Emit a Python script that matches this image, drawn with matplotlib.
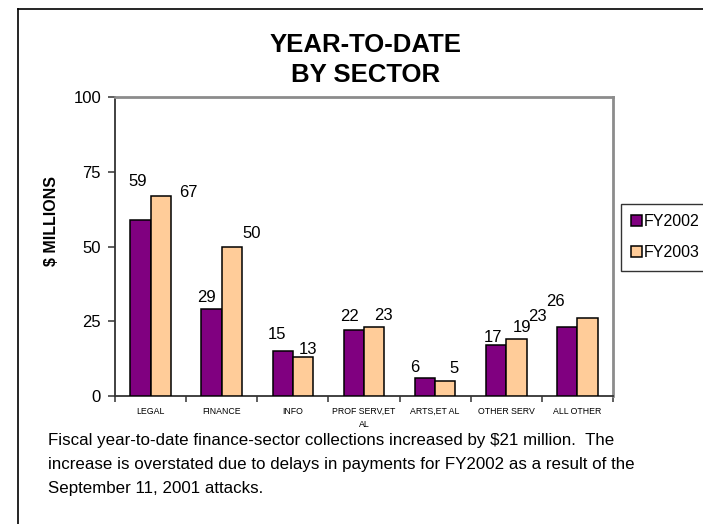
import matplotlib
matplotlib.use("Agg")
import matplotlib.pyplot as plt
from matplotlib.patches import Patch
from matplotlib.lines import Line2D
import numpy as np

plt.rcParams['font.family'] = ['Liberation Sans', 'DejaVu Sans']

categories = ["LEGAL", "FINANCE", "INFO", "PROF SERV,ET\nAL", "ARTS,ET AL", "OTHER SERV", "ALL OTHER"]
fy2002 = [59, 29, 15, 22, 6, 17, 23]
fy2003 = [67, 50, 13, 23, 5, 19, 26]
series_names = ["FY2002", "FY2003"]
yticks = [0, 25, 50, 75, 100]
title_lines = ["YEAR-TO-DATE", "BY SECTOR"]
ylabel = "$ MILLIONS"
caption_lines = [
    "Fiscal year-to-date finance-sector collections increased by $21 million.  The",
    "increase is overstated due to delays in payments for FY2002 as a result of the",
    "September 11, 2001 attacks.",
]

# label offsets (pixels) relative to bar top centre, as drawn in the reference
off2002 = [(-3, 38), (-5, 12), (-6, 17), (-4, 14), (-10, 11), (-3, 8), (-30, 11)]
off2003 = [(28, 3), (20, 13), (5, 8), (9, 12), (9, 13), (6, 12), (-32, 17)]

W, H = 703, 524
fig = plt.figure(figsize=(W / 100, H / 100), dpi=100)
ax = fig.add_axes([115 / W, 1 - 396 / H, (613 - 115) / W, (396 - 97) / H])

purple = "#800080"
peach = "#FFCC99"
x = np.arange(len(categories))
bw = 0.286
b1 = ax.bar(x - bw / 2, fy2002, bw, color=purple, edgecolor="black", linewidth=1.1, zorder=3)
b2 = ax.bar(x + bw / 2, fy2003, bw, color=peach, edgecolor="black", linewidth=1.1, zorder=3)

for bars, vals, offs in ((b1, fy2002, off2002), (b2, fy2003, off2003)):
    for r, v, (dx, dy) in zip(bars, vals, offs):
        ax.annotate(str(v), (r.get_x() + r.get_width() / 2, v), xytext=(dx, dy),
                    textcoords="offset pixels", ha="center", va="center", fontsize=12)

ax.set_xlim(-0.5, len(categories) - 0.5)
ax.set_ylim(0, 100)
ax.set_yticks(yticks)
ax.set_yticklabels([str(t) for t in yticks], fontsize=12)
ax.tick_params(axis="y", length=5, width=1.1, direction="out", pad=5, color="#333333")
ax.set_xticks(x)
ax.set_xticklabels(categories, fontsize=6.3, linespacing=1.6)
ax.tick_params(axis="x", which="major", length=0, pad=8)
ax.set_xticks(np.arange(len(categories) + 1) - 0.5, minor=True)
ax.tick_params(axis="x", which="minor", length=4, width=1.1, direction="out", color="#333333")

for s in ("left", "bottom"):
    ax.spines[s].set_color("#333333")
    ax.spines[s].set_linewidth(1.3)
for s in ("top", "right"):
    ax.spines[s].set_color("#8c8c8c")
    ax.spines[s].set_linewidth(2)

fig.text(51 / W, 1 - 221 / H, ylabel, rotation=90, ha="center", va="center",
         fontsize=11.5, fontweight="bold")

for i, line in enumerate(title_lines):
    fig.text(366 / W, 1 - (45 + 30 * i) / H, line, ha="center", va="center",
             fontsize=18.5, fontweight="bold")

handles = [Patch(facecolor=purple, edgecolor="black", linewidth=1.1),
           Patch(facecolor=peach, edgecolor="black", linewidth=1.1)]
leg = fig.legend(handles, series_names, loc="upper left", bbox_to_anchor=(621 / W, 1 - 204 / H),
                 fontsize=11.5, frameon=True, fancybox=False, edgecolor="black",
                 handlelength=0.65, handleheight=0.65, handletextpad=0.15,
                 labelspacing=1.0, borderpad=0.65, borderaxespad=0)
leg.get_frame().set_linewidth(1.0)

for i, line in enumerate(caption_lines):
    fig.text(48 / W, 1 - (440 + 24 * i) / H, line, ha="left", va="center", fontsize=12.2)

# outer chart border
lx, ty = 17.5 / W, 1 - 9 / H
fig.add_artist(Line2D([lx, lx], [-0.01, ty], transform=fig.transFigure, color="black", lw=1.2))
fig.add_artist(Line2D([lx, 1.01], [ty, ty], transform=fig.transFigure, color="black", lw=1.2))

fig.savefig("out.png", dpi=100)
